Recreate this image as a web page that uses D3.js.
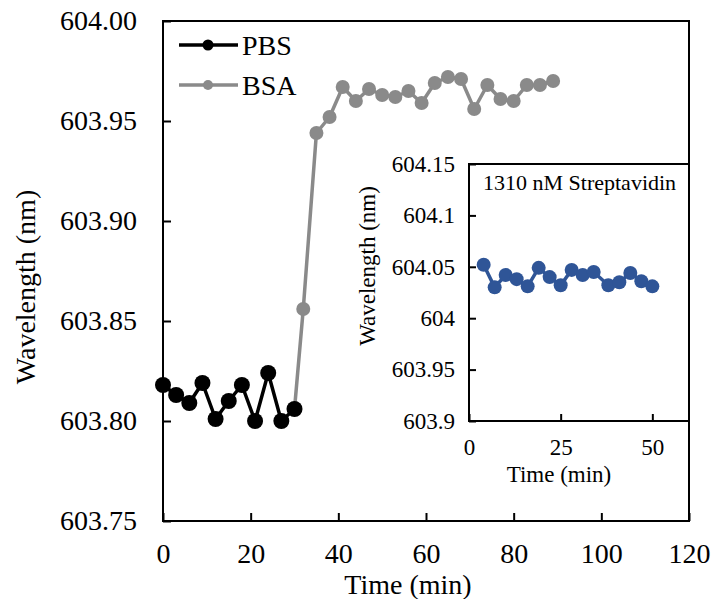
<!DOCTYPE html>
<html>
<head>
<meta charset="utf-8">
<script src="https://cdn.jsdelivr.net/npm/d3@7"></script>
<style>
  html, body { margin: 0; padding: 0; background: #fff; }
</style>
</head>
<body>
<div id="chart"></div>
<script>
// main chart: PBS then BSA (time in min, wavelength in nm)
const pbsTime = [0, 3, 6, 9, 12, 15, 18, 21, 24, 27, 30];
const pbsWave = [603.818, 603.813, 603.809, 603.819, 603.801, 603.810, 603.818, 603.800, 603.824, 603.800, 603.806];

const bsaTime = [30, 32, 35, 38, 41, 44, 47, 50, 53, 56, 59, 62, 65, 68, 71, 74, 77, 80, 83, 86, 89];
const bsaWave = [603.806, 603.856, 603.944, 603.952, 603.967, 603.960, 603.966, 603.963, 603.962, 603.965,
  603.959, 603.969, 603.972, 603.971, 603.956, 603.968, 603.961, 603.960, 603.968, 603.968, 603.970];

// inset: 1310 nM Streptavidin
const strepTime = [4, 7, 10, 13, 16, 19, 22, 25, 28, 31, 34, 38, 41, 44, 47, 50];
const strepWave = [604.052, 604.030, 604.042, 604.038, 604.031, 604.049, 604.040, 604.032, 604.047, 604.042,
  604.045, 604.032, 604.035, 604.044, 604.036, 604.031];

const mainXTicks = [0, 20, 40, 60, 80, 100, 120];
const mainYTicks = [603.75, 603.80, 603.85, 603.90, 603.95, 604.00];
const insetXTicks = [0, 25, 50];
const insetYTicks = [603.9, 603.95, 604, 604.05, 604.1, 604.15];

const serif = "'Liberation Serif', 'Times New Roman', serif";
const zip = (xs, ys) => xs.map((t, i) => ({ t: t, v: ys[i] }));

const width = 713, height = 599;
const svg = d3.select('#chart').append('svg')
  .attr('width', width)
  .attr('height', height);

// ---- main plot ----
const x = d3.scaleLinear().domain([0, 120]).range([163, 689]);
const y = d3.scaleLinear().domain([603.75, 604.0]).range([521, 21]);

const xAxis = svg.append('g')
  .attr('transform', 'translate(0,521)')
  .call(d3.axisBottom(x).tickValues(mainXTicks).tickSizeInner(-8).tickSizeOuter(0).tickPadding(22));
const yAxis = svg.append('g')
  .attr('transform', 'translate(163,0)')
  .call(d3.axisLeft(y).tickValues(mainYTicks).tickFormat(d3.format('.2f')).tickSizeInner(-8).tickSizeOuter(0).tickPadding(26));

[xAxis, yAxis].forEach(g => {
  g.select('.domain').remove();
  g.selectAll('line').attr('stroke', '#000').attr('stroke-width', 2);
  g.selectAll('text').attr('fill', '#000').style('font-size', '28px');
});

svg.append('rect')
  .attr('x', x(0)).attr('y', y(604.0))
  .attr('width', x(120) - x(0)).attr('height', y(603.75) - y(604.0))
  .attr('fill', 'none').attr('stroke', '#000').attr('stroke-width', 2);

svg.append('text')
  .attr('x', 408).attr('y', 594)
  .attr('text-anchor', 'middle')
  .style('font-size', '28px')
  .text('Time (min)');

svg.append('text')
  .attr('text-anchor', 'middle')
  .attr('transform', 'translate(35,287) rotate(-90)')
  .style('font-size', '28px')
  .text('Wavelength (nm)');

const line = d3.line().x(d => x(d.t)).y(d => y(d.v));

function drawSeries(data, color, lw, r) {
  svg.append('path')
    .datum(data)
    .attr('fill', 'none')
    .attr('stroke', color)
    .attr('stroke-width', lw)
    .attr('stroke-linejoin', 'round')
    .attr('d', line);
  svg.append('g').selectAll('circle')
    .data(data)
    .join('circle')
    .attr('cx', d => x(d.t))
    .attr('cy', d => y(d.v))
    .attr('r', r)
    .attr('fill', color);
}

drawSeries(zip(bsaTime, bsaWave), '#8a8a8a', 3.5, 7);
drawSeries(zip(pbsTime, pbsWave), '#000', 3.5, 8);

// legend
const legend = [
  { name: 'PBS', color: '#000', r: 5.5, y: 45 },
  { name: 'BSA', color: '#8a8a8a', r: 5, y: 85 }
];
legend.forEach(d => {
  svg.append('line')
    .attr('x1', 179).attr('x2', 238)
    .attr('y1', d.y).attr('y2', d.y)
    .attr('stroke', d.color).attr('stroke-width', 3.5);
  svg.append('circle')
    .attr('cx', 208).attr('cy', d.y).attr('r', d.r).attr('fill', d.color);
  svg.append('text')
    .attr('x', 242).attr('y', d.y + 10)
    .style('font-size', '28px')
    .text(d.name);
});

// ---- inset ----
const ix = d3.scaleLinear().domain([0, 60]).range([469, 689]);
const iy = d3.scaleLinear().domain([603.9, 604.15]).range([421, 164]);

svg.append('rect')
  .attr('x', ix(0)).attr('y', iy(604.15))
  .attr('width', ix(60) - ix(0)).attr('height', iy(603.9) - iy(604.15))
  .attr('fill', '#fff').attr('stroke', '#000').attr('stroke-width', 2);

const ixAxis = svg.append('g')
  .attr('transform', 'translate(0,421)')
  .call(d3.axisBottom(ix).tickValues(insetXTicks).tickSizeInner(-7).tickSizeOuter(0).tickPadding(18));
const iyAxis = svg.append('g')
  .attr('transform', 'translate(469,0)')
  .call(d3.axisLeft(iy).tickValues(insetYTicks).tickFormat(d => String(+d.toFixed(2))).tickSizeInner(-7).tickSizeOuter(0).tickPadding(14));

[ixAxis, iyAxis].forEach(g => {
  g.select('.domain').remove();
  g.selectAll('line').attr('stroke', '#000').attr('stroke-width', 2);
  g.selectAll('text').attr('fill', '#000').style('font-size', '23px');
});

svg.append('text')
  .attr('x', 559).attr('y', 482)
  .attr('text-anchor', 'middle')
  .style('font-size', '23px')
  .text('Time (min)');

svg.append('text')
  .attr('text-anchor', 'middle')
  .attr('transform', 'translate(375,266) rotate(-90)')
  .style('font-size', '23px')
  .text('Wavelength (nm)');

svg.append('text')
  .attr('x', 483).attr('y', 190)
  .style('font-size', '22px')
  .text('1310 nM Streptavidin');

const iline = d3.line().x(d => ix(d.t)).y(d => iy(d.v));
const strep = zip(strepTime, strepWave);
svg.append('path')
  .datum(strep)
  .attr('fill', 'none')
  .attr('stroke', '#2f5597')
  .attr('stroke-width', 3.5)
  .attr('stroke-linejoin', 'round')
  .attr('d', iline);
svg.append('g').selectAll('circle')
  .data(strep)
  .join('circle')
  .attr('cx', d => ix(d.t))
  .attr('cy', d => iy(d.v))
  .attr('r', 7)
  .attr('fill', '#2f5597');

// every label in the serif face
svg.selectAll('text').style('font-family', serif).attr('fill', '#000');
</script>
</body>
</html>
